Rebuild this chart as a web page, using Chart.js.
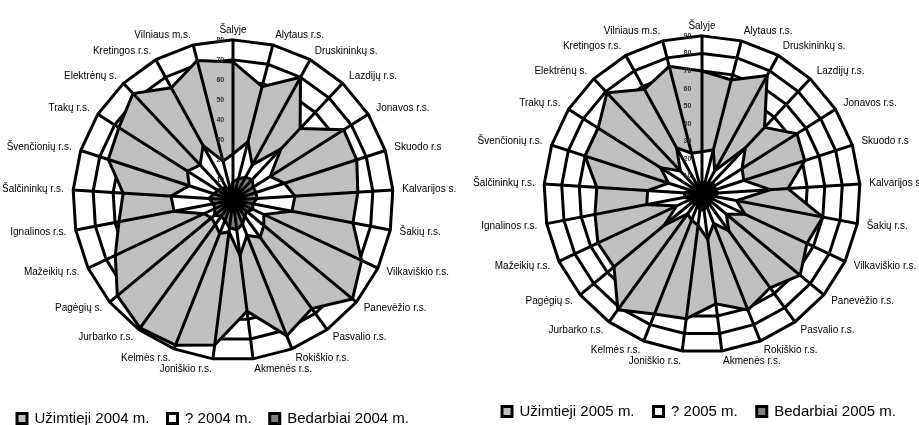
<!DOCTYPE html>
<html>
<head>
<meta charset="utf-8">
<script src="https://cdn.jsdelivr.net/npm/chart.js@4"></script>
<style>
  body { margin: 0; background: #fff; overflow: hidden; }
  #wrap { display: flex; width: 919px; height: 425px; }
  .box { position: relative; width: 460px; height: 425px; overflow: hidden; }
  .inner { position: absolute; top: 0; }
</style>
</head>
<body>
<div id="wrap">
  <div class="box"><div class="inner" style="left:-1px;width:462px;height:436px"><canvas id="c2004"></canvas></div></div>
  <div class="box" style="width:459px"><div class="inner" style="left:10px;width:458px;height:429px"><canvas id="c2005"></canvas></div></div>
</div>
<script>
// rajonai pagal laikrodžio rodyklę nuo viršaus
const rajonai = ["Šalyje", "Alytaus r.s.", "Druskininkų s.", "Lazdijų r.s.", "Jonavos r.s.", "Skuodo r.s",
  "Kalvarijos s.", "Šakių r.s.", "Vilkaviškio r.s.", "Panevėžio r.s.", "Pasvalio r.s.", "Rokiškio r.s.",
  "Akmenės r.s.", "Joniškio r.s.", "Kelmės r.s.", "Jurbarko r.s.", "Pagėgių s.", "Mažeikių r.s.",
  "Ignalinos r.s.", "Šalčininkų r.s.", "Švenčionių r.s.", "Trakų r.s.", "Elektrėnų s.", "Kretingos r.s.",
  "Vilniaus m.s."];

// 2004 m.
const uzimtieji2004 = [69, 58.5, 70, 49, 65.5, 65, 62.5, 61, 71, 77.5, 67, 73, 56, 73, 78, 79, 75, 65, 58, 55, 65.5, 67.5, 73, 64, 72];
const kiti2004 = [23, 30, 20, 35, 22, 27, 31, 30, 17, 20, 23, 19, 28, 16, 18, 15, 14, 16, 30, 31, 23, 27, 24, 31, 20];
const bedarbiai2004 = [9, 11, 13, 14, 12, 12, 12, 10, 11, 9, 10, 13, 15, 14, 11, 10, 12, 10, 10, 12, 10, 9, 8, 7, 6];

// 2005 m.
const uzimtieji2005 = [70, 67, 77, 52, 64, 61.5, 49, 70, 66, 72.5, 66, 71, 63, 71.5, 73.5, 81.5, 65, 65.5, 62, 60, 70, 70, 79, 68, 75];
const kiti2005 = [24, 26, 15, 36, 27, 25, 39, 20, 27, 18, 26, 18, 26, 18, 16, 14, 28, 16, 32, 31, 20, 28, 18, 30, 24];
const bedarbiai2005 = [7, 6, 6, 9, 8, 8, 9, 7, 7, 6, 7, 8, 9, 9, 7, 6, 8, 7, 10, 10, 7, 6, 5, 6, 5];

// stipinai piešiami virš užpildų
const stipinai = {
    id: "stipinai",
    afterDatasetsDraw(chart) {
        const r = chart.scales.r;
        const ctx = chart.ctx;
        ctx.save();
        ctx.strokeStyle = "#000";
        ctx.lineWidth = 3;
        ctx.beginPath();
        for (let i = 0; i < chart.data.labels.length; i++) {
            const p = r.getPointPositionForValue(i, r.max);
            ctx.moveTo(r.xCenter, r.yCenter);
            ctx.lineTo(p.x, p.y);
        }
        ctx.stroke();
        ctx.restore();
    }
};

function rinkinys(label, data, color, order) {
    return {
        label: label,
        data: data,
        backgroundColor: color,
        borderColor: "#000",
        borderWidth: 3,
        pointRadius: 0,
        fill: true,
        order: order
    };
}

function piesti(id, metai, uz, kiti, bed, max, o) {
    new Chart(document.getElementById(id), {
        type: "radar",
        data: {
            labels: rajonai,
            datasets: [
                rinkinys("Užimtieji " + metai + " m.", uz, "#c0c0c0", 3),
                rinkinys("? " + metai + " m.", kiti, "#ffffff", 2),
                rinkinys("Bedarbiai " + metai + " m.", bed, "#808080", 1)
            ]
        },
        options: {
            responsive: true,
            maintainAspectRatio: false,
            animation: false,
            layout: { padding: { top: o.top } },
            plugins: {
                legend: {
                    position: "bottom",
                    align: o.align,
                    labels: {
                        boxWidth: 10,
                        boxHeight: 10,
                        padding: o.tarpas,
                        color: "#000",
                        font: { family: "Liberation Sans", size: 15 },
                        sort: (a, b) => a.datasetIndex - b.datasetIndex
                    }
                },
                tooltip: { enabled: false }
            },
            scales: {
                r: {
                    min: 0,
                    max: max,
                    grid: { color: "#000", lineWidth: 3 },
                    angleLines: { display: false },
                    pointLabels: {
                        color: "#000",
                        padding: 4,
                        font: { family: "Liberation Sans", size: 10, lineHeight: 0.1 }
                    },
                    ticks: {
                        stepSize: 10,
                        z: 1,
                        showLabelBackdrop: false,
                        color: "#333",
                        font: { family: "Liberation Sans", size: 7, weight: "bold" },
                        callback: v => v + " ".repeat(o.tarpai)
                    }
                }
            }
        },
        plugins: [stipinai]
    });
}

piesti("c2004", 2004, uzimtieji2004, kiti2004, bedarbiai2004, 80, { top: 7, align: "start", tarpas: 18, tarpai: 13 });
piesti("c2005", 2005, uzimtieji2005, kiti2005, bedarbiai2005, 90, { top: 3, align: "center", tarpas: 19, tarpai: 15 });
</script>
</body>
</html>
